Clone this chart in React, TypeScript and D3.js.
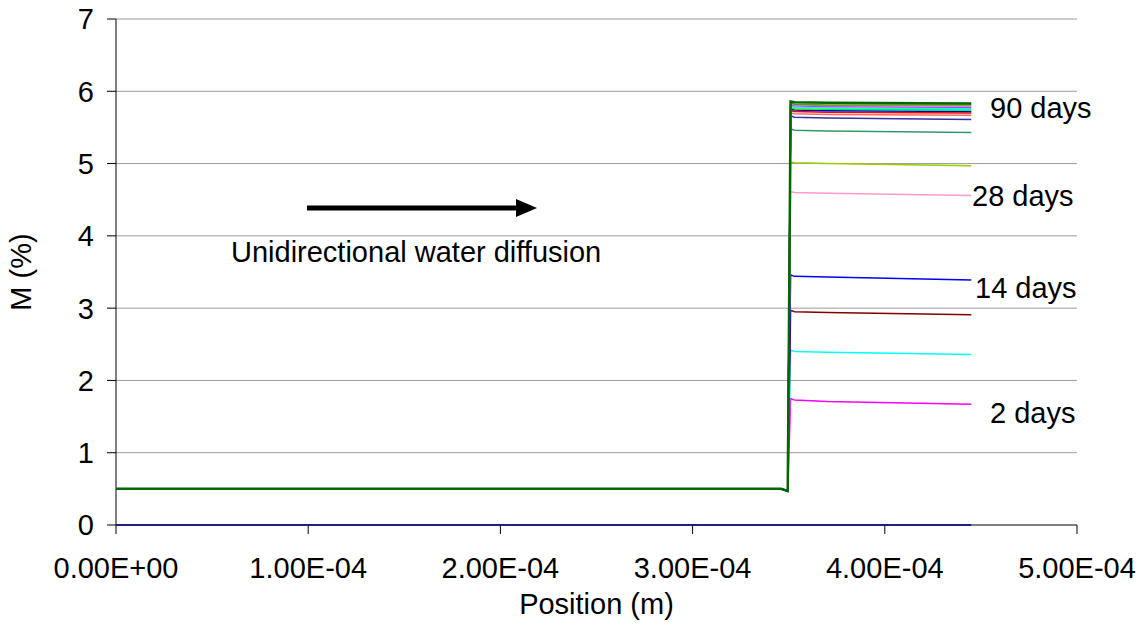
import React from "react";
import * as d3 from "d3";

const positions = [0, 3.46e-4, 3.495e-4, 3.51e-4, 3.53e-4, 3.7e-4, 4.45e-4];

const seriesNames = [
  "initial", "2 days", "s3", "s4", "14 days", "s6", "28 days", "s8", "s9", "s10",
  "s11", "s12", "s13", "s14", "s15", "s16", "s17", "90 days",
];
const seriesColors = [
  "#000080", "#ff00ff", "#00ffff", "#800000", "#0000ff", "#ff99cc", "#99cc00", "#339966",
  "#333399", "#ff6666", "#ff0000", "#0000cc", "#00ff00", "#00ffff", "#ff00ff", "#9999ff",
  "#669900", "#006600",
];
const seriesValues: number[][] = [
  [0, 0, 0, 0, 0, 0, 0],
  [0.5, 0.5, 0.47, 1.75, 1.73, 1.71, 1.67],
  [0.5, 0.5, 0.47, 2.42, 2.40, 2.39, 2.36],
  [0.5, 0.5, 0.47, 2.97, 2.95, 2.94, 2.91],
  [0.5, 0.5, 0.47, 3.46, 3.44, 3.43, 3.39],
  [0.5, 0.5, 0.47, 4.61, 4.60, 4.59, 4.56],
  [0.5, 0.5, 0.47, 5.02, 5.01, 5.00, 4.97],
  [0.5, 0.5, 0.47, 5.48, 5.46, 5.45, 5.43],
  [0.5, 0.5, 0.47, 5.66, 5.64, 5.63, 5.61],
  [0.5, 0.5, 0.47, 5.70, 5.69, 5.68, 5.67],
  [0.5, 0.5, 0.47, 5.73, 5.72, 5.71, 5.70],
  [0.5, 0.5, 0.47, 5.75, 5.74, 5.73, 5.72],
  [0.5, 0.5, 0.47, 5.77, 5.76, 5.75, 5.74],
  [0.5, 0.5, 0.47, 5.79, 5.78, 5.77, 5.76],
  [0.5, 0.5, 0.47, 5.81, 5.80, 5.79, 5.78],
  [0.5, 0.5, 0.47, 5.82, 5.81, 5.80, 5.79],
  [0.5, 0.5, 0.47, 5.84, 5.82, 5.81, 5.81],
  [0.5, 0.5, 0.47, 5.86, 5.85, 5.84, 5.83],
];

const xTicks = [0, 1e-4, 2e-4, 3e-4, 4e-4, 5e-4];
const yTicks = [0, 1, 2, 3, 4, 5, 6, 7];
const dayLabels = ["90 days", "28 days", "14 days", "2 days"];
const dayLabelValues = [5.78, 4.56, 3.28, 1.55];
const dayLabelX = [990, 972, 975, 990];

const W = 1147;
const H = 633;
const M = { left: 116, right: 1077, top: 19, bottom: 525 };
const FONT = "'Liberation Sans', Arial, sans-serif";
const FS = 29;

export default function App() {
  const x = d3.scaleLinear().domain([0, 5e-4]).range([M.left, M.right]);
  const y = d3.scaleLinear().domain([0, 7]).range([M.bottom, M.top]);
  const line = d3
    .line<[number, number]>()
    .x((d) => x(d[0]))
    .y((d) => y(d[1]));

  const fmt = (v: number) => {
    const s = v.toExponential(2).toUpperCase();
    const m = s.match(/^(-?[\d.]+)E([+-])(\d+)$/);
    if (!m) return s;
    return `${m[1]}E${m[2]}${m[3].padStart(2, "0")}`;
  };

  return (
    <svg
      width={W}
      height={H}
      style={{ position: "absolute", left: 0, top: 0, background: "#fff" }}
      fontFamily={FONT}
    >
      <rect x={0} y={0} width={W} height={H} fill="#fff" />
      {yTicks.map((t) => (
        <g key={t}>
          {t > 0 && (
            <line x1={M.left} x2={M.right} y1={y(t)} y2={y(t)} stroke="#9a9a9a" strokeWidth={1} />
          )}
          <line x1={M.left - 9} x2={M.left} y1={y(t)} y2={y(t)} stroke="#000" strokeWidth={1} />
          <text x={M.left - 22} y={y(t)} dy="0.36em" textAnchor="end" fontSize={FS}>
            {t}
          </text>
        </g>
      ))}
      {xTicks.map((t) => (
        <g key={t}>
          <line x1={x(t)} x2={x(t)} y1={M.bottom} y2={M.bottom + 9} stroke="#000" strokeWidth={1} />
          <text x={x(t)} y={578} textAnchor="middle" fontSize={FS}>
            {fmt(t)}
          </text>
        </g>
      ))}
      <line x1={M.left} x2={M.right} y1={M.bottom} y2={M.bottom} stroke="#000" strokeWidth={1} />
      <line x1={M.left} x2={M.left} y1={M.top} y2={M.bottom} stroke="#000" strokeWidth={1} />

      {seriesValues.map((vals, i) => (
        <path
          key={seriesNames[i]}
          d={line(positions.map((p, j) => [p, vals[j]] as [number, number])) || ""}
          fill="none"
          stroke={seriesColors[i]}
          strokeWidth={i === seriesValues.length - 1 ? 2.5 : 1.5}
        />
      ))}

      {dayLabels.map((l, i) => (
        <text key={l} x={dayLabelX[i]} y={y(dayLabelValues[i])} dy="0.36em" fontSize={FS}>
          {l}
        </text>
      ))}

      <line x1={307} x2={516} y1={208} y2={208} stroke="#000" strokeWidth={5} />
      <path d="M516,199 L537,208 L516,217 Z" fill="#000" />
      <text x={231} y={262} fontSize={FS}>
        Unidirectional water diffusion
      </text>

      <text x={(M.left + M.right) / 2} y={614} textAnchor="middle" fontSize={FS}>
        Position (m)
      </text>
      <text
        transform={`translate(31, 272) rotate(-90)`}
        textAnchor="middle"
        fontSize={FS}
      >
        M (%)
      </text>
    </svg>
  );
}
